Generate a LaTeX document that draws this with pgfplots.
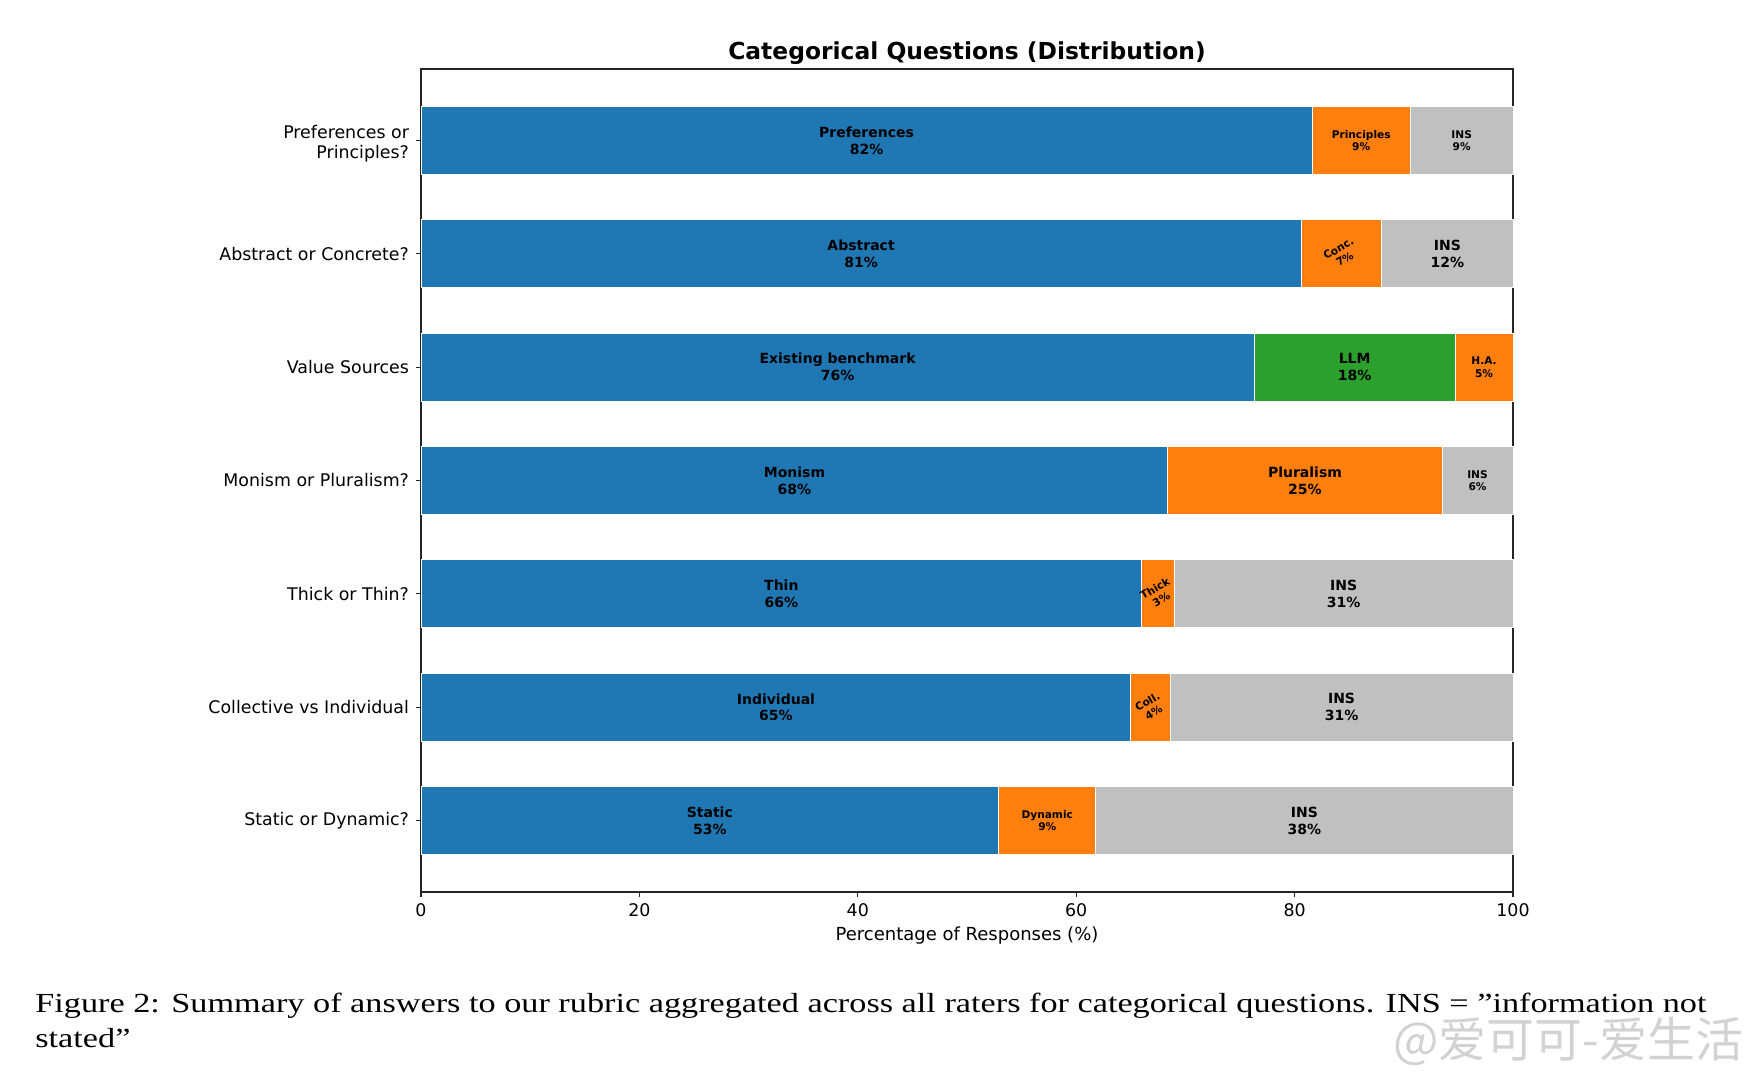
\documentclass[border=0pt]{standalone}
\usepackage{fontspec}
\setmainfont{DejaVu Sans}
\newfontfamily\capfont{Liberation Serif}
\newfontfamily\cjk{Noto Sans CJK SC}
\usepackage{pgfplots}
\pgfplotsset{compat=1.18}
\definecolor{mblue}{HTML}{1F77B4}
\definecolor{morange}{HTML}{FF7F0E}
\definecolor{mgreen}{HTML}{2CA02C}
\definecolor{mgray}{HTML}{C0C0C0}
\newcommand{\lbig}{\bfseries\fontsize{7}{8.4}\selectfont}
\newcommand{\lsml}{\bfseries\fontsize{5.3}{6.2}\selectfont}
\newcommand{\capline}{Figure 2: Summary of answers to our rubric aggregated across all raters for categorical questions. INS = ”information not}
\newlength\capw
\begin{document}%
\settowidth\capw{\capfont\fontsize{13.8}{17.5}\selectfont\capline}%
\pgfmathsetmacro\capsx{835.5/\capw}%
\begin{tikzpicture}
\useasboundingbox (0,0) rectangle (873pt,540pt);
\begin{axis}[
  at={(210.5pt,94pt)}, anchor=south west,
  scale only axis, width=546pt, height=411.5pt,
  xbar stacked, bar width=0.6,
  xmin=0, xmax=100, ymin=-0.63, ymax=6.63,
  enlargelimits=false,
  xtick={0,20,40,60,80,100},
  ytick={0,1,2,3,4,5,6},
  yticklabels={Static or Dynamic?, Collective vs Individual, Thick or Thin?, Monism or Pluralism?, Value Sources, Abstract or Concrete?, {\raisebox{-2.2pt}[\height][\depth]{\begin{tabular}{@{}r@{}}Preferences or\\Principles?\end{tabular}}}},
  yticklabel style={align=right, font=\fontsize{8.7}{10}\selectfont},
  xticklabel style={font=\fontsize{8.7}{10.4}\selectfont},
  /pgf/number format/assume math mode=true,
  tick align=outside, tick pos=left, major tick length=2.5pt,
  axis line style={black!85, line width=0.7pt},
  every tick/.style={black!85, line width=0.6pt},
  xlabel={Percentage of Responses (\%)},
  xlabel style={font=\fontsize{9}{10.8}\selectfont, at={(axis description cs:0.5,0)}, anchor=center, yshift=-22pt},
  clip=false,
]
\addplot[fill=mblue, draw=white, line width=0.5pt] coordinates {(52.9,0) (65.0,1) (66.0,2) (68.4,3) (76.3,4) (80.6,5) (81.6,6)};
\addplot[fill=morange, draw=white, line width=0.5pt] coordinates {(8.9,0) (3.6,1) (3.0,2) (25.1,3) (0,4) (7.4,5) (9.0,6)};
\addplot[fill=mgreen, draw=white, line width=0.5pt] coordinates {(0,0) (0,1) (0,2) (0,3) (18.4,4) (0,5) (0,6)};
\addplot[fill=morange, draw=white, line width=0.5pt] coordinates {(0,0) (0,1) (0,2) (0,3) (5.3,4) (0,5) (0,6)};
\addplot[fill=mgray, draw=white, line width=0.5pt] coordinates {(38.2,0) (31.4,1) (31.0,2) (6.5,3) (0,4) (12.0,5) (9.4,6)};
% anchor points for segment labels (segment centres)
\coordinate (p6a) at (axis cs:40.8,6);
\coordinate (p6b) at (axis cs:86.1,6);
\coordinate (p6c) at (axis cs:95.3,6);
\coordinate (p5a) at (axis cs:40.3,5);
\coordinate (p5b) at (axis cs:84.3,5);
\coordinate (p5c) at (axis cs:94.0,5);
\coordinate (p4a) at (axis cs:38.15,4);
\coordinate (p4b) at (axis cs:85.5,4);
\coordinate (p4c) at (axis cs:97.35,4);
\coordinate (p3a) at (axis cs:34.2,3);
\coordinate (p3b) at (axis cs:80.95,3);
\coordinate (p3c) at (axis cs:96.75,3);
\coordinate (p2a) at (axis cs:33.0,2);
\coordinate (p2b) at (axis cs:67.5,2);
\coordinate (p2c) at (axis cs:84.5,2);
\coordinate (p1a) at (axis cs:32.5,1);
\coordinate (p1b) at (axis cs:66.8,1);
\coordinate (p1c) at (axis cs:84.3,1);
\coordinate (p0a) at (axis cs:26.45,0);
\coordinate (p0b) at (axis cs:57.35,0);
\coordinate (p0c) at (axis cs:80.9,0);
\end{axis}
\node[font=\lbig, align=center] at (p6a) {Preferences\\82\%};
\node[font=\lsml, align=center] at (p6b) {Principles\\9\%};
\node[font=\lsml, align=center] at (p6c) {INS\\9\%};
\node[font=\lbig, align=center] at (p5a) {Abstract\\81\%};
\node[font=\lsml, align=center, rotate=30] at (p5b) {Conc.\\7\%};
\node[font=\lbig, align=center] at (p5c) {INS\\12\%};
\node[font=\lbig, align=center] at (p4a) {Existing benchmark\\76\%};
\node[font=\lbig, align=center] at (p4b) {LLM\\18\%};
\node[font=\lsml, align=center] at (p4c) {H.A.\\5\%};
\node[font=\lbig, align=center] at (p3a) {Monism\\68\%};
\node[font=\lbig, align=center] at (p3b) {Pluralism\\25\%};
\node[font=\lsml, align=center] at (p3c) {INS\\6\%};
\node[font=\lbig, align=center] at (p2a) {Thin\\66\%};
\node[font=\lsml, align=center, rotate=30] at (p2b) {Thick\\3\%};
\node[font=\lbig, align=center] at (p2c) {INS\\31\%};
\node[font=\lbig, align=center] at (p1a) {Individual\\65\%};
\node[font=\lsml, align=center, rotate=30] at (p1b) {Coll.\\4\%};
\node[font=\lbig, align=center] at (p1c) {INS\\31\%};
\node[font=\lbig, align=center] at (p0a) {Static\\53\%};
\node[font=\lsml, align=center] at (p0b) {Dynamic\\9\%};
\node[font=\lbig, align=center] at (p0c) {INS\\38\%};
\node[font=\bfseries\fontsize{11.7}{14}\selectfont] at (483.5pt,513.5pt) {Categorical Questions (Distribution)};
\node[anchor=west, inner sep=0pt, text=gray!35, font=\cjk\fontsize{24}{24}\selectfont] at (696.5pt,19.5pt) {@爱可可-爱生活};
\node[anchor=base west, inner sep=0pt, font=\capfont\fontsize{13.8}{17.5}\selectfont] at (17.5pt,33.5pt) {\scalebox{\capsx}[1]{\capline}};
\node[anchor=base west, inner sep=0pt, font=\capfont\fontsize{13.8}{17.5}\selectfont] at (17.5pt,16pt) {\scalebox{\capsx}[1]{stated”}};
\end{tikzpicture}%
\end{document}
